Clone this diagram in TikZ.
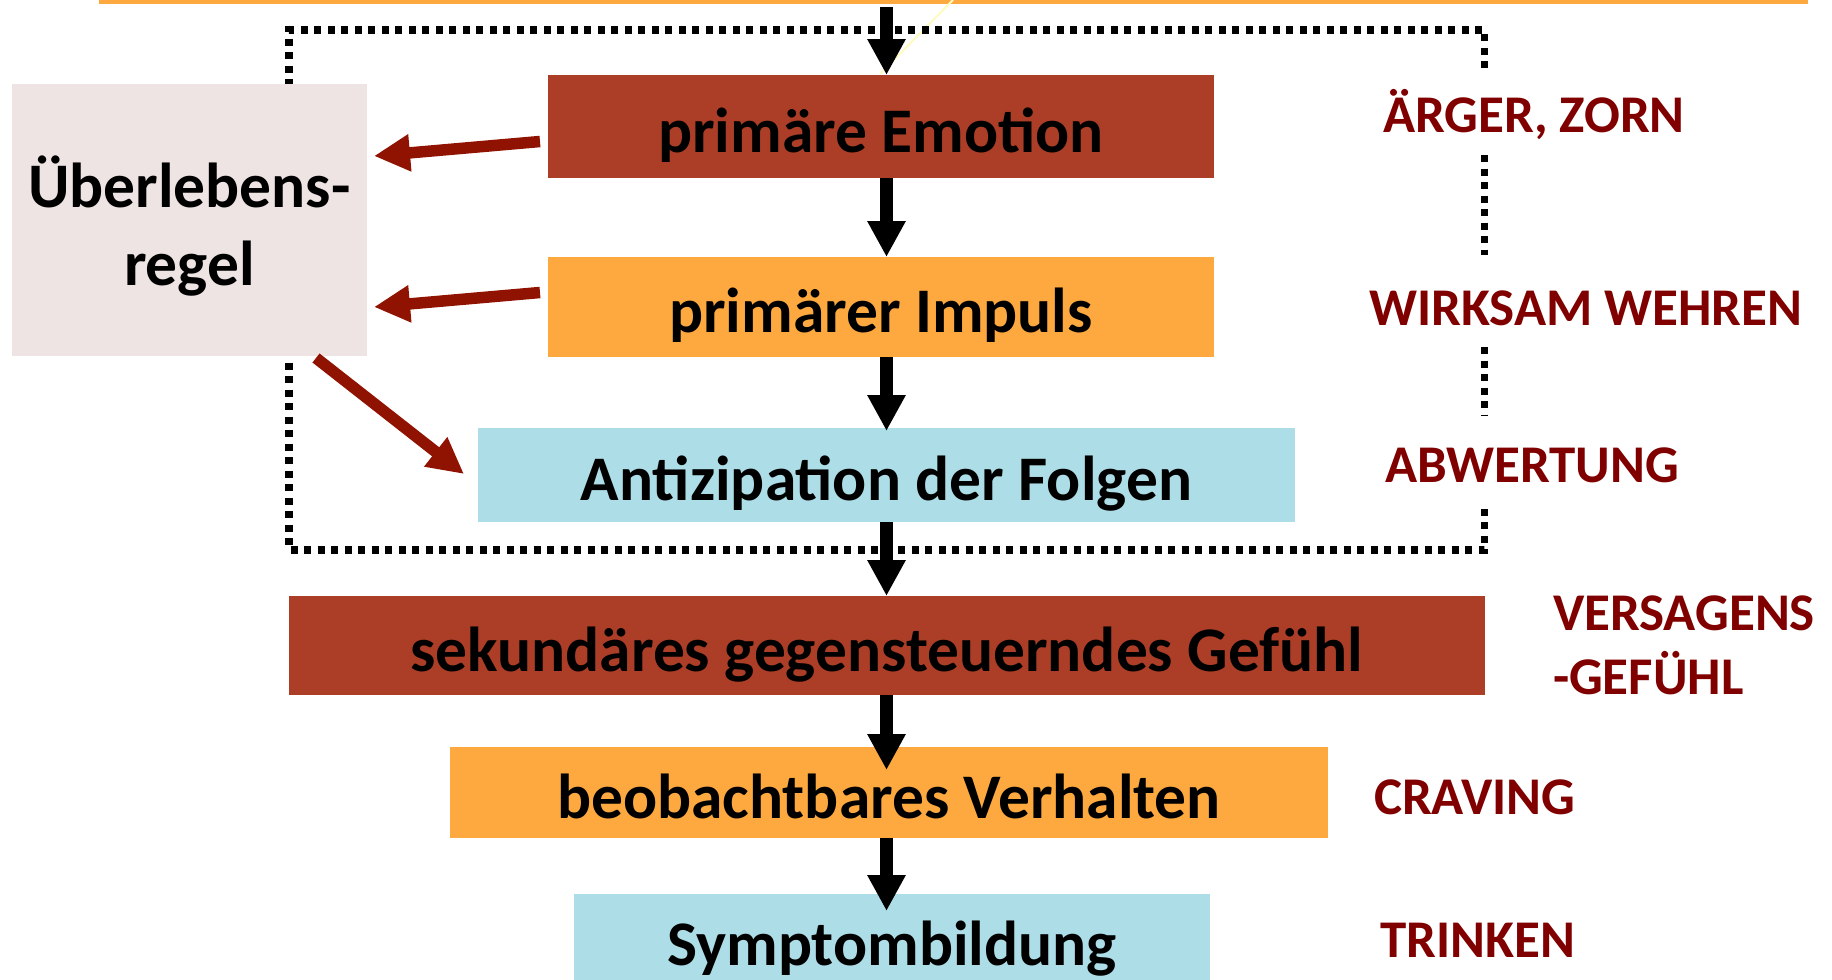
\documentclass[tikz,border=0pt]{standalone}
\usepackage{fontspec}
\setmainfont{Carlito}
\usetikzlibrary{arrows.meta,calc}
\definecolor{brownbox}{HTML}{AC3E27}
\definecolor{orangebox}{HTML}{FEA940}
\definecolor{bluebox}{HTML}{ADDEE8}
\definecolor{rulegrey}{HTML}{EDE4E3}
\definecolor{labred}{HTML}{800000}
\definecolor{arrowred}{HTML}{901200}
\definecolor{paleyellow}{HTML}{FFFBC0}
\begin{document}
\begin{tikzpicture}[x=1pt,y=-1pt,
  box/.style={inner sep=0pt, outer sep=0pt, font=\bfseries\fontsize{63.5}{77}\selectfont, text height=51pt, text depth=0pt},
  boxtext/.style={inner sep=0pt, outer sep=0pt, font=\bfseries\fontsize{63.5}{78}\selectfont},
  lab/.style={inner sep=0pt, outer sep=0pt, anchor=base west, text=labred, font=\bfseries\fontsize{53}{64}\selectfont},
  frame/.style={draw=black, line width=7.2pt, dash pattern=on 7pt off 6.5pt},
  blackarrow/.style={draw=black, line width=12.5pt, -{Triangle[length=36pt,width=36pt]}},
  redarrow/.style={draw=arrowred, line width=11.5pt, -{Triangle[length=36pt,width=35pt]}}
]
\useasboundingbox (0,0) rectangle (1832,980);
% top orange edge
\fill[orangebox] (99,0) rectangle (1808,3.5);
% faint line
\coordinate (y1) at (953,0);
\coordinate (y2) at (880,74);
\draw[paleyellow, line width=2pt] (y1) -- (y2);
% dotted frame
\draw[frame] (1484.5,68) -- (1484.5,30) -- (289,30) -- (289,550) -- (1484.5,550) -- (1484.5,505);
\draw[frame] (1484.5,155) -- (1484.5,255);
\draw[frame] (1484.5,347) -- (1484.5,415);
% boxes
\node[box, fill=rulegrey, minimum width=355pt, minimum height=272pt] (rule) at (189.5,220) {};
\node[boxtext, align=center, anchor=base] (ruletext) at (189.5,285) {Überlebens-\\regel};
\node[box, fill=brownbox, minimum width=666pt, minimum height=103pt] (emo) at (881,126.5) {primäre Emotion};
\node[box, fill=orangebox, minimum width=666pt, minimum height=100pt] (imp) at (881,307) {primärer Impuls};
\node[box, fill=bluebox, minimum width=817pt, minimum height=94pt] (ant) at (886.5,475) {Antizipation der Folgen};
\node[box, fill=brownbox, minimum width=1196pt, minimum height=99pt] (sek) at (887,645.5) {sekundäres gegensteuerndes Gefühl};
\node[box, fill=orangebox, minimum width=878pt, minimum height=91pt] (beo) at (889,792.5) {beobachtbares Verhalten};
\node[box, fill=bluebox, minimum width=636pt, minimum height=86pt, text height=56pt] (sym) at (892,937) {Symptombildung};
% labels
\node[lab] (l1) at (1383,132) {ÄRGER, ZORN};
\node[lab] (l2) at (1369,325) {WIRKSAM WEHREN};
\node[lab] (l3) at (1385,482) {ABWERTUNG};
\node[lab, align=left] (l4) at (1553,694) {VERSAGENS\\-GEFÜHL};
\node[lab] (l5) at (1374,814) {CRAVING};
\node[lab] (l6) at (1380,957) {TRINKEN};
% black arrows
\coordinate (top) at (886.5,7);
\draw[blackarrow] (top) -- (top |- emo.north);
\draw[blackarrow] (emo.south -| top) -- (imp.north -| top);
\draw[blackarrow] (imp.south -| top) -- ($(ant.north -| top)+(0,3)$);
\draw[blackarrow] (ant.south -| top) -- (sek.north -| top);
\draw[blackarrow] (sek.south -| top) -- ($(beo.north -| top)+(0,23)$);
\draw[blackarrow] (beo.south -| top) -- ($(sym.north -| top)+(0,17)$);
% red arrows
\draw[redarrow] ($(emo.west)+(-8,15)$) -- ($(rule.east)+(7,-64)$);
\draw[redarrow] ($(imp.west)+(-8,-14.5)$) -- ($(rule.east)+(7,87)$);
\draw[redarrow] ($(rule.south)+(126.5,2)$) -- ($(ant.west)+(-14,-1)$);
\end{tikzpicture}
\end{document}
